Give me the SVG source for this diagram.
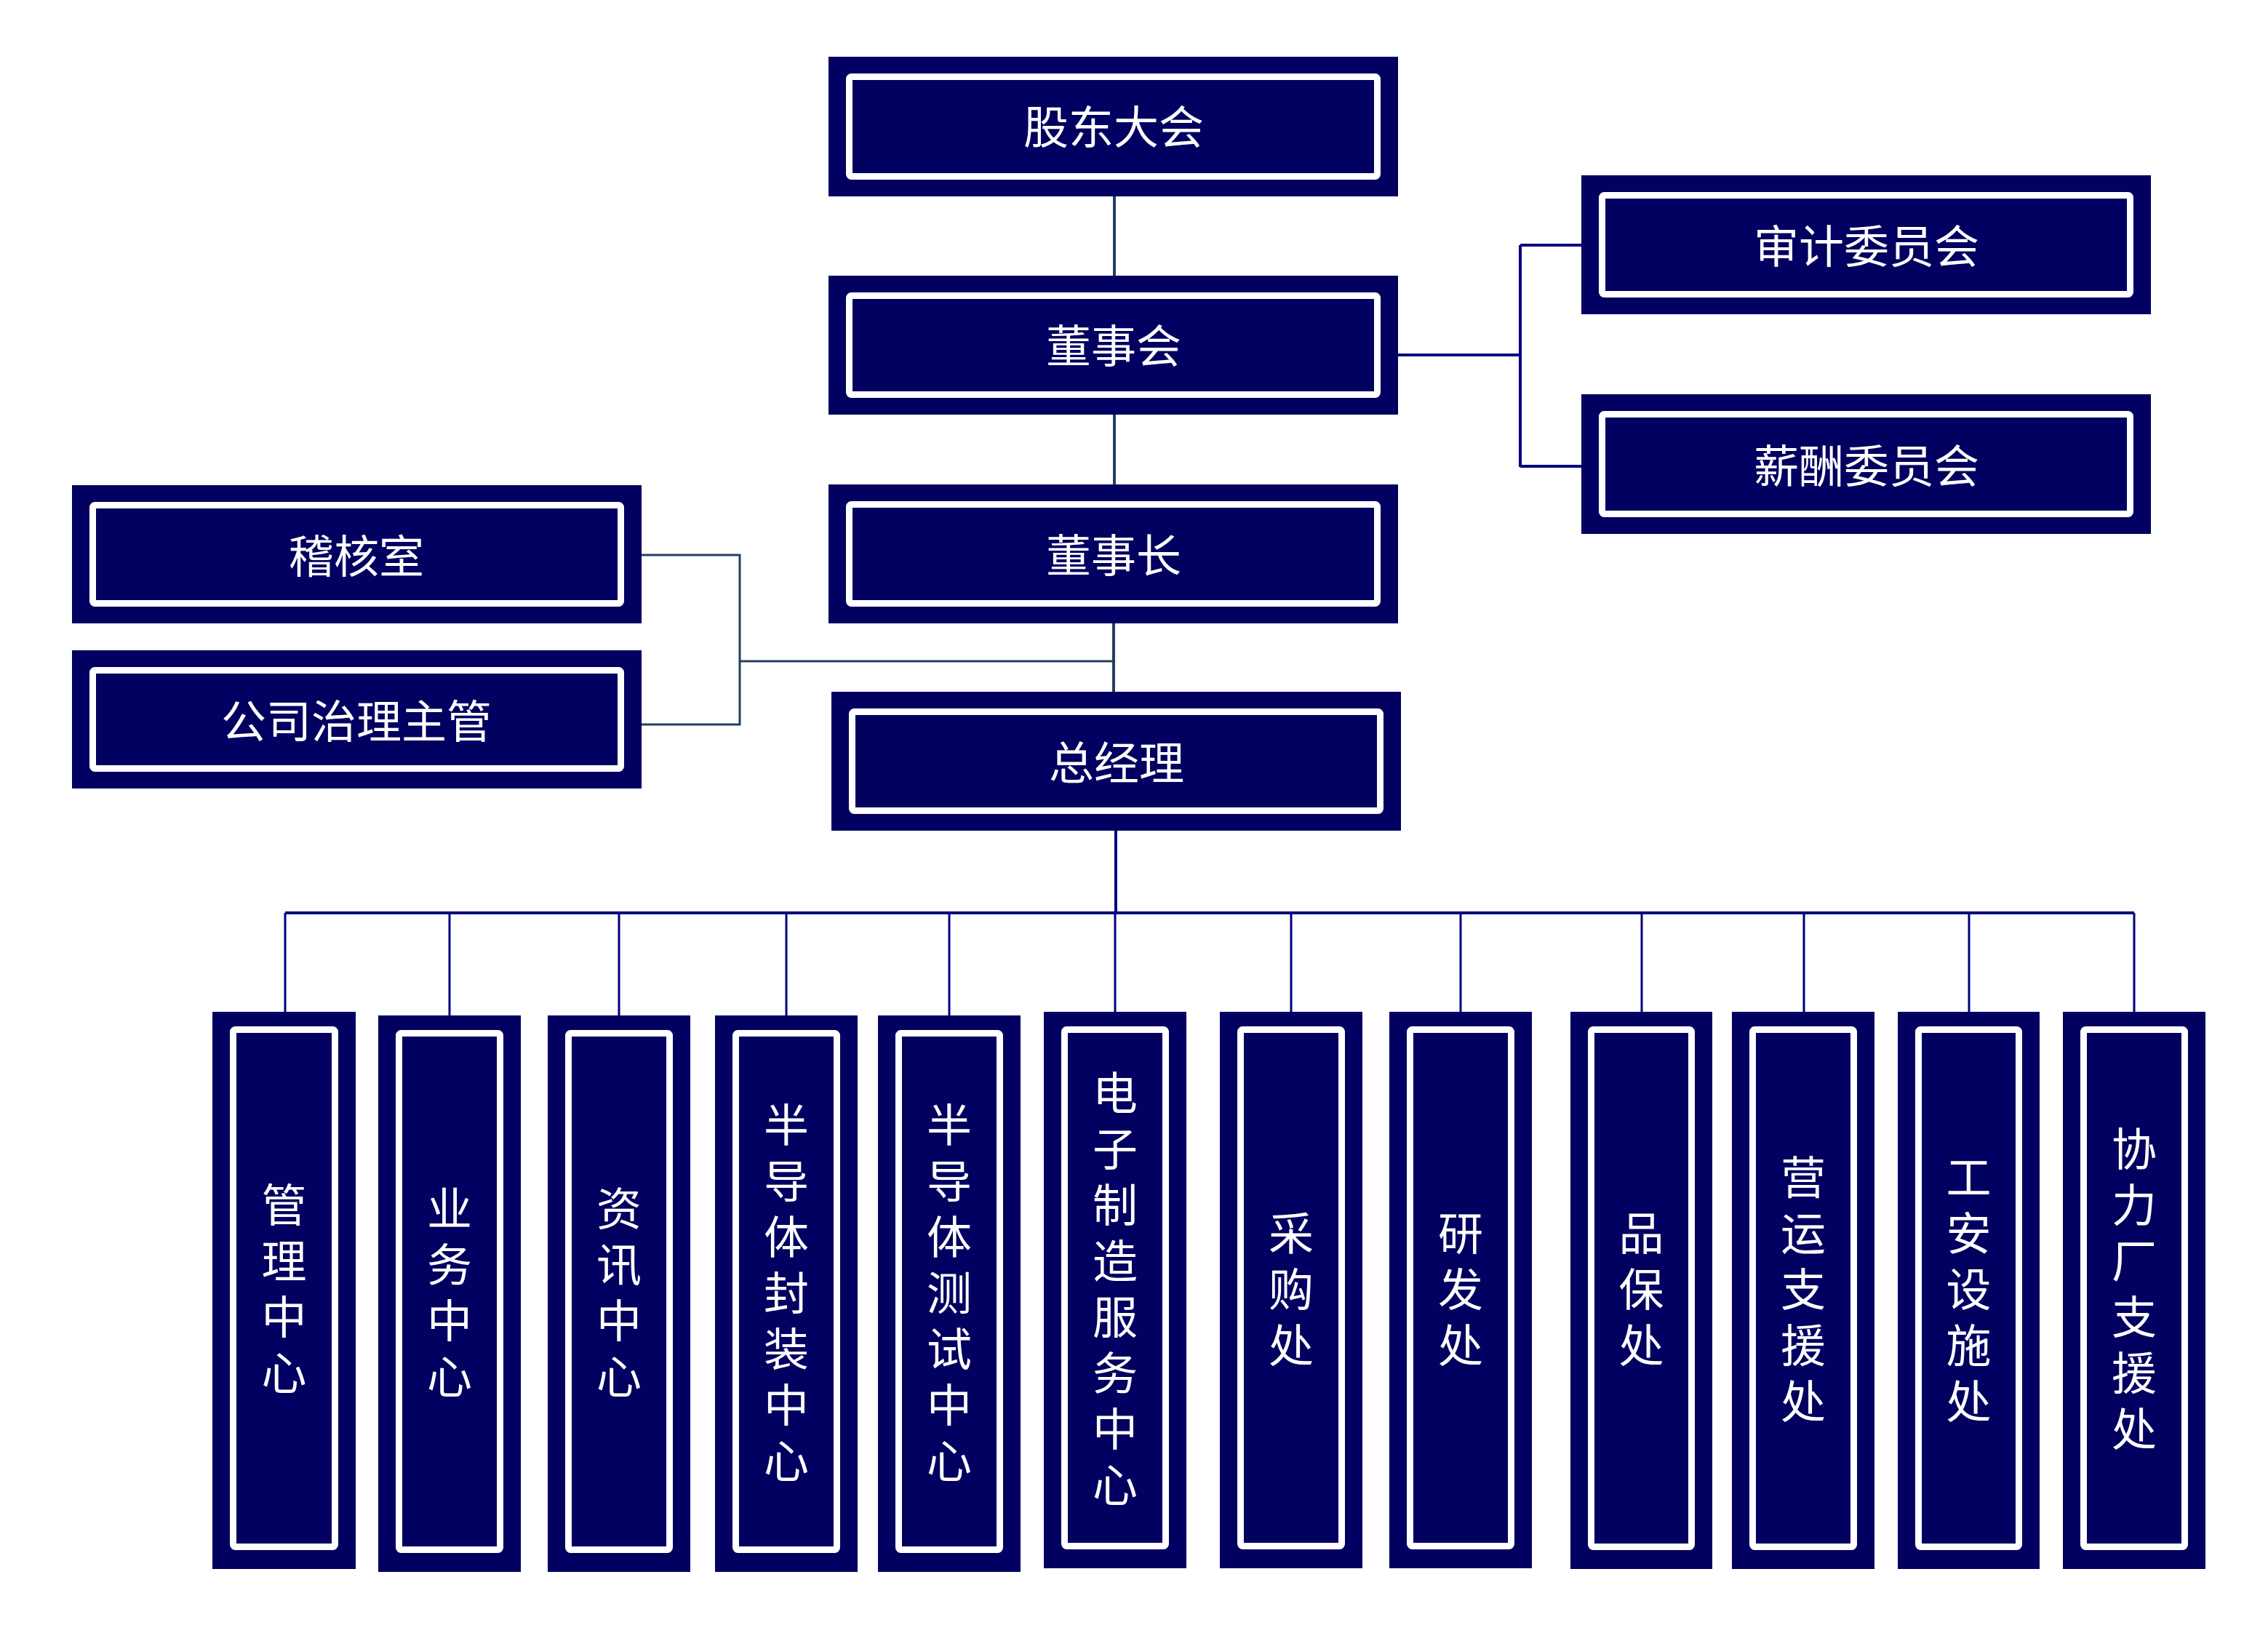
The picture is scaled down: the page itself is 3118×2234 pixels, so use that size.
<svg xmlns="http://www.w3.org/2000/svg" width="3118" height="2234" viewBox="0 0 3118 2234">
<style>
.box{fill:#020060}
.frame{fill:none;stroke:#ffffff;stroke-width:9}
.t{fill:#ffffff;font-family:"Noto Sans CJK SC","Noto Sans CJK TC",sans-serif;font-size:62px;text-anchor:middle;dominant-baseline:central}
.v{fill:#ffffff;font-family:"Noto Sans CJK SC","Noto Sans CJK TC",sans-serif;font-size:62px;text-anchor:middle;writing-mode:vertical-rl;letter-spacing:15px}
.c1{fill:none;stroke:#243F60;stroke-width:4}
.c1t{fill:none;stroke:#243F60;stroke-width:3}
.c2{fill:none;stroke:#000080;stroke-width:4}
.c2t{fill:none;stroke:#000080;stroke-width:3}
</style>
<rect width="3118" height="2234" fill="#ffffff"/>
<g id="connectors">
<path class="c1" d="M1532 270V379M1532 570V666M1531 857V951"/>
<path class="c2" d="M1922 488H2090M2090 337V642M2090 337H2174M2090 641H2174"/>
<path class="c1t" d="M882 763H1017V996H882M1017 909H1531"/>
<path class="c2" d="M1534 1142V1255M392 1255H2934"/>
<path class="c2t" d="M392 1255V1391M618 1255V1396M851 1255V1396M1081 1255V1396M1305 1255V1396M1533 1255V1391M1775 1255V1391M2008 1255V1391M2257 1255V1391M2480 1255V1391M2707 1255V1391M2934 1255V1391"/>
</g>
<g id="n-gudong"><rect class="box" x="1139" y="78" width="783" height="192"/><rect class="frame" x="1167.5" y="105.5" width="726" height="137" rx="3"/><text class="t" x="1531" y="171">股东大会</text></g>
<g id="n-dongshihui"><rect class="box" x="1139" y="379" width="783" height="191"/><rect class="frame" x="1167.5" y="406.5" width="726" height="136" rx="3"/><text class="t" x="1531" y="472">董事会</text></g>
<g id="n-dongshizhang"><rect class="box" x="1139" y="666" width="783" height="191"/><rect class="frame" x="1167.5" y="693.5" width="726" height="136" rx="3"/><text class="t" x="1531" y="760">董事长</text></g>
<g id="n-zongjingli"><rect class="box" x="1143" y="951" width="783" height="191"/><rect class="frame" x="1171.5" y="978.5" width="726" height="136" rx="3"/><text class="t" x="1535" y="1045">总经理</text></g>
<g id="n-shenji"><rect class="box" x="2174" y="241" width="783" height="191"/><rect class="frame" x="2202.5" y="268.5" width="726" height="136" rx="3"/><text class="t" x="2566" y="335">审计委员会</text></g>
<g id="n-xinchou"><rect class="box" x="2174" y="542" width="783" height="192"/><rect class="frame" x="2202.5" y="569.5" width="726" height="137" rx="3"/><text class="t" x="2566" y="637">薪酬委员会</text></g>
<g id="n-jihe"><rect class="box" x="99" y="667" width="783" height="190"/><rect class="frame" x="127.5" y="694.5" width="726" height="135" rx="3"/><text class="t" x="490" y="761">稽核室</text></g>
<g id="n-zhili"><rect class="box" x="99" y="894" width="783" height="190"/><rect class="frame" x="127.5" y="921.5" width="726" height="135" rx="3"/><text class="t" x="490" y="988">公司治理主管</text></g>

<g id="n-guanli"><rect class="box" x="292" y="1391" width="197" height="766"/><rect class="frame" x="320.5" y="1415.5" width="140" height="711" rx="3"/><text class="v" x="390.5" y="1779.5">管理中心</text></g>
<g id="n-yewu"><rect class="box" x="520" y="1396" width="196" height="765"/><rect class="frame" x="548.5" y="1420.5" width="139" height="710" rx="3"/><text class="v" x="618" y="1784.5">业务中心</text></g>
<g id="n-zixun"><rect class="box" x="753" y="1396" width="196" height="765"/><rect class="frame" x="781.5" y="1420.5" width="139" height="710" rx="3"/><text class="v" x="851" y="1784.5">资讯中心</text></g>
<g id="n-fengzhuang"><rect class="box" x="983" y="1396" width="196" height="765"/><rect class="frame" x="1011.5" y="1420.5" width="139" height="710" rx="3"/><text class="v" x="1081" y="1784.5">半导体封装中心</text></g>
<g id="n-ceshi"><rect class="box" x="1207" y="1396" width="196" height="765"/><rect class="frame" x="1235.5" y="1420.5" width="139" height="710" rx="3"/><text class="v" x="1305" y="1784.5">半导体测试中心</text></g>
<g id="n-dianzi"><rect class="box" x="1435" y="1391" width="196" height="765"/><rect class="frame" x="1463.5" y="1415.5" width="139" height="710" rx="3"/><text class="v" x="1533" y="1779.5">电子制造服务中心</text></g>
<g id="n-caigou"><rect class="box" x="1677" y="1391" width="196" height="765"/><rect class="frame" x="1705.5" y="1415.5" width="139" height="710" rx="3"/><text class="v" x="1775" y="1779.5">采购处</text></g>
<g id="n-yanfa"><rect class="box" x="1910" y="1391" width="196" height="765"/><rect class="frame" x="1938.5" y="1415.5" width="139" height="710" rx="3"/><text class="v" x="2008" y="1779.5">研发处</text></g>
<g id="n-pinbao"><rect class="box" x="2159" y="1391" width="195" height="766"/><rect class="frame" x="2187.5" y="1415.5" width="138" height="711" rx="3"/><text class="v" x="2256.5" y="1779.5">品保处</text></g>
<g id="n-yingyun"><rect class="box" x="2381" y="1391" width="196" height="766"/><rect class="frame" x="2409.5" y="1415.5" width="139" height="711" rx="3"/><text class="v" x="2479" y="1779.5">营运支援处</text></g>
<g id="n-gongan"><rect class="box" x="2609" y="1391" width="195" height="766"/><rect class="frame" x="2637.5" y="1415.5" width="138" height="711" rx="3"/><text class="v" x="2706.5" y="1779.5">工安设施处</text></g>
<g id="n-xieli"><rect class="box" x="2836" y="1391" width="196" height="766"/><rect class="frame" x="2864.5" y="1415.5" width="139" height="711" rx="3"/><text class="v" x="2934" y="1779.5">协力厂支援处</text></g>
</svg>
